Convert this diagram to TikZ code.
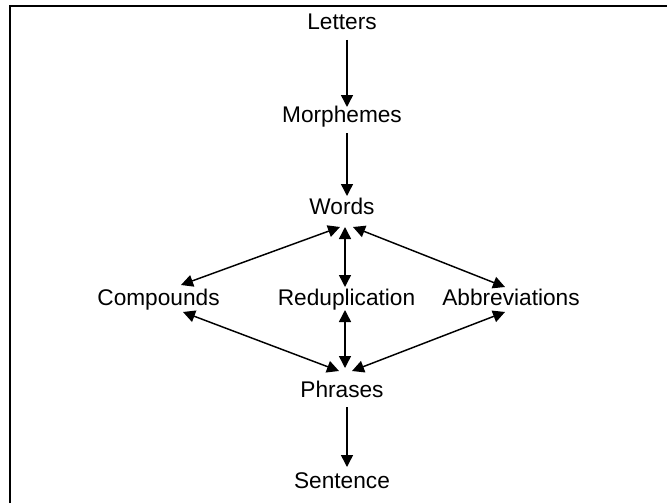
\documentclass[tikz,border=0pt]{standalone}
\usepackage{fontspec}
\setmainfont{Liberation Sans}
\usetikzlibrary{arrows.meta}
\begin{document}
\begin{tikzpicture}[x=0.75pt,y=-0.75pt,
  term/.style={font=\fontsize{17}{20}\selectfont, inner sep=0pt, anchor=base},
  tip/.style={},
  link/.style={line width=1.1pt, -{Triangle[width=9pt,length=9pt]}},
  both/.style={line width=1.1pt, {Triangle[width=9pt,length=9pt]}-{Triangle[width=9pt,length=9pt]}},
  frame/.style={line width=1.6pt}]
\useasboundingbox (0,0) rectangle (667,503);
% frame edges
\draw[frame] (10,503) -- (10,6) -- (667,6);

% terms
\node[term] (letters)   at (342,30)    {Letters};
\node[term] (morphemes) at (342,122)   {Morphemes};
\node[term] (words)     at (342,214)   {Words};
\node[term] (compounds) at (158.5,305) {Compounds};
\node[term] (redup)     at (346.5,305) {Reduplication};
\node[term] (abbrev)    at (511,305)   {Abbreviations};
\node[term] (phrases)   at (342,397)   {Phrases};
\node[term] (sentence)  at (342,488)   {Sentence};

% connection points
\coordinate (lt-s)  at (347,40);
\coordinate (mo-n)  at (347,107);
\coordinate (mo-s)  at (347,133);
\coordinate (wo-n)  at (347,196);
\coordinate (wo-sl) at (340,227);
\coordinate (wo-s)  at (345,227);
\coordinate (wo-sr) at (353,227);
\coordinate (co-ne) at (181,285);
\coordinate (re-n)  at (345,287);
\coordinate (ab-nw) at (505,287);
\coordinate (co-se) at (183,312);
\coordinate (re-s)  at (345,310);
\coordinate (ab-sw) at (505,312);
\coordinate (ph-nl) at (339,371);
\coordinate (ph-n)  at (345,368);
\coordinate (ph-nr) at (352,371);
\coordinate (ph-s)  at (347,407);
\coordinate (se-n)  at (347,467);

% connectors
\draw[link] (lt-s) -- (mo-n);
\draw[link] (mo-s) -- (wo-n);
\draw[both] (wo-sl) -- (co-ne);
\draw[both] (wo-s)  -- (re-n);
\draw[both] (wo-sr) -- (ab-nw);
\draw[both] (co-se) -- (ph-nl);
\draw[both] (re-s)  -- (ph-n);
\draw[both] (ab-sw) -- (ph-nr);
\draw[link] (ph-s) -- (se-n);
\end{tikzpicture}
\end{document}
